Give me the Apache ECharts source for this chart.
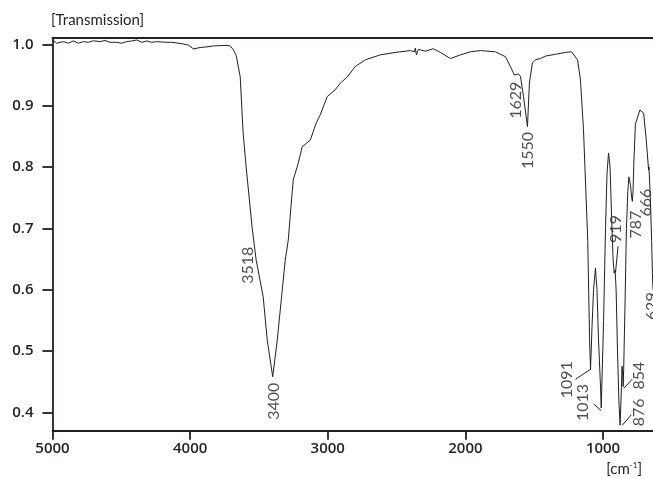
<!DOCTYPE html>
<html><head><meta charset="utf-8">
<script src="https://cdn.jsdelivr.net/npm/echarts@6/dist/echarts.min.js"></script>
<style>html,body{margin:0;padding:0;background:#fff}#c{width:653px;height:479px}</style>
</head><body><div id="c"></div>
<script>
// Wavenumber (cm-1) and transmission
const wavenumbers = [4994,4970,4958,4921,4885,4849,4812,4776,4740,4703,4655,4618,4582,4533,4497,4460,4424,4388,4351,4315,4279,4242,4206,4170,4133,4097,4049,4012,3976,3927,3879,3830,3782,3733,3709,3685,3665,3636,3615,3593,3549,3520,3469,3440,3400,3367,3338,3309,3287,3273,3251,3215,3186,3127,3084,3055,3004,2946,2909,2858,2800,2727,2618,2509,2400,2371,2364,2356,2342,2291,2233,2182,2109,2036,1964,1891,1782,1709,1673,1644,1615,1600,1578,1549,1535,1513,1491,1455,1418,1345,1273,1229,1185,1164,1142,1111,1098,1091,1080,1069,1055,1044,1033,1018,1013,996,982,971,960,949,938,927,919,912,905,895,885,876,868,862,857,854,850,840,830,820,812,800,792,787,782,776,765,755,733,722,705,686,669,666,655,647,640,637];
const transmission = [1.007,1.002,1.000,1.0046,1.002,1.0057,1.002,1.0046,1.0035,1.006,1.0046,1.0065,1.0035,1.0035,1.002,1.0046,1.0057,1.0073,1.0035,1.0057,1.0035,1.0046,1.004,1.0035,1.0035,1.0024,1.0008,0.999,0.9927,0.995,0.996,0.9976,0.998,0.9985,0.9976,0.991,0.982,0.947,0.856,0.800,0.700,0.648,0.588,0.518,0.458,0.518,0.583,0.648,0.681,0.720,0.779,0.806,0.833,0.844,0.872,0.885,0.915,0.926,0.937,0.947,0.964,0.975,0.983,0.987,0.990,0.988,0.994,0.983,0.992,0.989,0.993,0.987,0.977,0.983,0.988,0.990,0.988,0.980,0.964,0.950,0.952,0.948,0.915,0.866,0.937,0.970,0.975,0.977,0.981,0.984,0.987,0.988,0.975,0.942,0.861,0.680,0.520,0.469,0.540,0.600,0.635,0.600,0.520,0.440,0.407,0.550,0.700,0.790,0.823,0.800,0.720,0.650,0.627,0.632,0.600,0.500,0.420,0.379,0.430,0.475,0.460,0.442,0.470,0.580,0.700,0.760,0.784,0.770,0.750,0.744,0.760,0.807,0.870,0.877,0.893,0.896,0.888,0.844,0.795,0.800,0.740,0.680,0.616,0.600];

// Peak annotations: label text and label centre (data space)
const peakLabels = ['3518','3400','1629','1550','1091','1013','919','787','666','629','876','854'];
const labelWn    = [3582,3389,1636,1545,1265,1149,910,764,691,647,738,742];
const labelT     = [0.640,0.418,0.909,0.827,0.453,0.416,0.699,0.706,0.742,0.573,0.400,0.460];

// Leader lines from label end to band
const leaderFrom = [[1200,0.454],[1067,0.4135],[891,0.671],[849,0.439],[860,0.379]];
const leaderTo   = [[1091,0.470],[1013,0.4026],[909,0.629],[788,0.454],[795,0.396]];

const xTicks = [5000,4000,3000,2000,1000];
const yTicks = [0.4,0.5,0.6,0.7,0.8,0.9,1.0];

const spectrum = wavenumbers.map((w,i)=>[w,transmission[i]]);
const annots = peakLabels.map((t,i)=>({value:[labelWn[i],labelT[i]],name:t}));
const leaders = leaderFrom.map((f,i)=>({coords:[f,leaderTo[i]]}));

const ink = '#231f20';
const tickFont = {color:ink,fontSize:15,fontFamily:'Open Sans',fontWeight:600};
const chart = echarts.init(document.getElementById('c'),null,{renderer:'canvas'});
chart.setOption({
  animation:false,
  backgroundColor:'#fff',
  grid:{left:52.5,right:0,top:37.7,bottom:48.3,containLabel:false},
  title:[
    {text:'[Transmission]',left:46,top:8,textStyle:{color:ink,fontSize:15,fontWeight:'normal',fontFamily:'Lato'}},
    {text:'[cm{s|-1}]',right:6,top:456,textStyle:{color:ink,fontSize:15,fontWeight:'normal',fontFamily:'Lato',rich:{s:{fontSize:8,verticalAlign:'top',padding:[0,0,8,0],color:ink,fontFamily:'Lato'}}}}
  ],
  xAxis:[{
    type:'value',inverse:true,min:637,max:5000,interval:1000,
    position:'bottom',
    axisLine:{show:true,onZero:false,lineStyle:{color:ink,width:1.8}},
    axisTick:{show:true,length:9,lineStyle:{color:ink,width:1.8},customValues:xTicks},
    axisLabel:{show:true,margin:11,...tickFont,customValues:xTicks,formatter:v=>String(v)},
    splitLine:{show:false}
  },{
    type:'value',inverse:true,min:637,max:5000,position:'top',
    axisLine:{show:true,onZero:false,lineStyle:{color:ink,width:1.8}},
    axisTick:{show:false},axisLabel:{show:false},splitLine:{show:false}
  }],
  yAxis:{
    type:'value',min:0.37,max:1.011,
    axisLine:{show:true,onZero:false,lineStyle:{color:ink,width:1.8}},
    axisTick:{show:true,length:10,lineStyle:{color:ink,width:1.8},customValues:yTicks},
    axisLabel:{show:true,margin:19,...tickFont,customValues:yTicks,formatter:v=>v.toFixed(1)},
    splitLine:{show:false}
  },
  series:[
    {type:'line',data:spectrum,showSymbol:false,symbol:'none',lineStyle:{color:ink,width:1},smooth:false,z:3},
    {type:'lines',coordinateSystem:'cartesian2d',data:leaders,lineStyle:{color:ink,width:1,opacity:1},symbol:'none',z:4},
    {type:'scatter',data:annots,symbolSize:0,clip:false,z:5,
      label:{show:true,position:'inside',rotate:90,align:'center',verticalAlign:'middle',
        formatter:p=>p.name,color:ink,fontSize:16,fontFamily:'Lato',fontWeight:'normal'}}
  ]
});
</script></body></html>
